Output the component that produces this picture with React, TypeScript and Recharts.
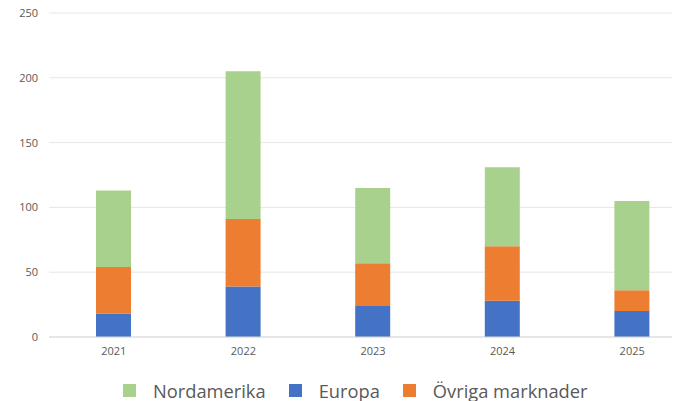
import React from "react";
import { BarChart, Bar, XAxis, YAxis, CartesianGrid, Legend } from "recharts";

const years = ["2021", "2022", "2023", "2024", "2025"];
const europa = [18, 39, 24, 28, 20];
const ovriga = [36, 52, 33, 42, 16];
const nordamerika = [59, 114, 58, 61, 69];
const yTicks = [0, 50, 100, 150, 200, 250];

const series = [
  { key: "Europa", values: europa, color: "#4472c4" },
  { key: "Övriga marknader", values: ovriga, color: "#ed7d31" },
  { key: "Nordamerika", values: nordamerika, color: "#a9d18e" },
];
const legendOrder = ["Nordamerika", "Europa", "Övriga marknader"];

const data = years.map((y, i) => {
  const row: any = { year: y };
  series.forEach((s) => (row[s.key] = s.values[i]));
  return row;
});

const FONT = "'Open Sans', 'Noto Sans', sans-serif";

const LegendContent = () => (
  <div style={{ display: "flex", alignItems: "center", height: 20, fontFamily: FONT, fontSize: 18.3, color: "#595959", whiteSpace: "nowrap" }}>
    {legendOrder.map((k) => {
      const s = series.find((x) => x.key === k)!;
      return (
        <div key={k} style={{ display: "flex", alignItems: "center", marginRight: 23 }}>
          <span style={{ display: "inline-block", width: 13, height: 13, background: s.color, marginRight: 17 }} />
          <span>{k}</span>
        </div>
      );
    })}
  </div>
);

export default function App() {
  return (
    <div style={{ width: 672, height: 401, overflow: "hidden", marginTop: -8 }}>
      <BarChart
        width={700}
        height={401}
        data={data}
        margin={{ top: 13, right: 11, left: 0, bottom: 14 }}
        barSize={35}
      >
        <CartesianGrid vertical={false} stroke="#e6e6e6" />
        <XAxis
          dataKey="year"
          height={30}
          tickLine={false}
          axisLine={{ stroke: "#d9d9d9" }}
          tickMargin={4}
          tick={{ fontSize: 11, fill: "#595959", fontFamily: FONT }}
        />
        <YAxis
          width={41}
          domain={[0, 250]}
          ticks={yTicks}
          tickLine={false}
          axisLine={false}
          tickMargin={5}
          tick={{ fontSize: 11, fill: "#595959", fontFamily: FONT }}
        />
        {series.map((s) => (
          <Bar key={s.key} dataKey={s.key} stackId="a" fill={s.color} isAnimationActive={false} />
        ))}
        <Legend
          verticalAlign="bottom"
          content={<LegendContent />}
          wrapperStyle={{ top: 380, left: 115, width: "auto" }}
        />
      </BarChart>
    </div>
  );
}
